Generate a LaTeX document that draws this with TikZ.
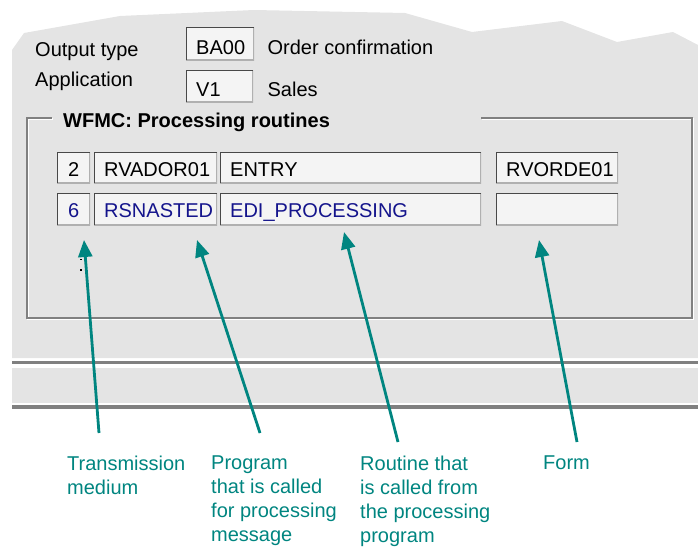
\documentclass[tikz,border=0pt]{standalone}
\usepackage{fontspec}
\setmainfont{Liberation Sans}
\usetikzlibrary{arrows.meta, positioning}

\definecolor{panelgray}{RGB}{228,228,228}
\definecolor{framegray}{RGB}{128,128,128}
\definecolor{fieldfill}{RGB}{244,244,244}
\definecolor{fielddark}{RGB}{72,72,72}
\definecolor{fieldlight}{RGB}{176,176,176}
\definecolor{sapblue}{RGB}{20,20,140}
\definecolor{noteteal}{RGB}{0,133,128}

\tikzset{
  field/.style={fill=fieldfill, anchor=north west, inner xsep=10pt, inner ysep=0pt,
    text width=#1, align=left, minimum height=31pt, text height=17pt, text depth=0pt,
    font=\fontsize{20}{24}\selectfont,
    path picture={
      \draw[fieldlight, line width=3pt] (path picture bounding box.south west)
        -- (path picture bounding box.south east) -- (path picture bounding box.north east);
      \draw[fielddark, line width=2pt] (path picture bounding box.south west)
        -- (path picture bounding box.north west) -- (path picture bounding box.north east);
    }},
  hfield/.style={field=#1, minimum height=33pt, text height=21pt},
  lbl/.style={inner sep=0pt, anchor=base west, font=\fontsize{20}{24}\selectfont},
  note/.style={inner sep=0pt, anchor=north west, align=left, text=noteteal,
    font=\fontsize{20}{24}\selectfont},
  notearrow/.style={draw=noteteal, line width=2.8pt,
    -{Triangle[length=17pt,width=14pt]}},
}

\begin{document}
\begin{tikzpicture}[x=1pt, y=-1pt]
\useasboundingbox (0,0) rectangle (698,548);

% screen panel
\fill[panelgray] (12,358) -- (12,50) -- (24,33) -- (120,16) -- (254,10) -- (405,13)
  -- (472,32) -- (562,21) -- (617,42) -- (673,32) -- (698,45) -- (698,358) -- cycle;
\fill[framegray] (12,361) rectangle (698,364);
\fill[panelgray] (12,368) rectangle (698,403);
\fill[framegray] (12,405) rectangle (698,409);

% header
\node[lbl] (otype) at (35,57) {Output type};
\node[lbl] (appl) at (35,87) {Application};
\node[hfield=48pt] (ba) at (186,27) {BA00};
\node[hfield=47pt, minimum height=32pt] (v1) at (186,70) {V1};
\node[lbl] (oconf) at ([xshift=13pt]ba.base east) {Order confirmation};
\node[lbl] (sales) at ([xshift=14pt]v1.base east) {Sales};

% group box
\draw[white, line width=1.2pt] (53,119) -- (28,119) -- (28,319) -- (693,319)
  -- (693,119) -- (482,119);
\draw[framegray, line width=1.5pt] (52,118) -- (27,118) -- (27,318) -- (692,318)
  -- (692,118) -- (481,118);
\node[lbl, font=\fontsize{20}{24}\selectfont\bfseries] (wfmc) at (63,128)
  {WFMC: Processing routines};

% table rows
\node[field=13pt, align=center] (med1) at (57,152) {2};
\node[field=103pt] (prog1) at (94,152) {RVADOR01};
\node[field=241pt] (rout1) at (220,152) {ENTRY};
\node[field=102pt] (form1) at (496,152) {RVORDE01};

\node[field=13pt, align=center, minimum height=32pt, text=sapblue] (med2) at (57,193) {6};
\node[field=103pt, minimum height=32pt, text=sapblue] (prog2) at (94,193) {RSNASTED};
\node[field=241pt, minimum height=32pt, text=sapblue] (rout2) at (220,193) {EDI\_PROCESSING};
\node[field=102pt, minimum height=32pt] (form2) at (496,193) {};

\fill (80,258.5) rectangle (81.8,260.3);
\fill (80,269) rectangle (81.8,270.8);

% notes
\node[note] (nmed) at (67,455.5) {Transmission\\medium};
\node[note] (nprog) at (211,455.5) {Program\\that is called\\for processing\\message};
\node[note] (nrout) at (360,455.5) {Routine that\\is called from\\the processing\\program};
\node[note] (nform) at (543,455.5) {Form};

\coordinate (tail1) at (99,433);   \coordinate (tip1) at (84,240);
\coordinate (tail2) at (260,433);  \coordinate (tip2) at (197,240);
\coordinate (tail3) at (398,442);  \coordinate (tip3) at (344,232);
\coordinate (tail4) at (577,442);  \coordinate (tip4) at (539,240);

\draw[notearrow] (tail1) -- (tip1);
\draw[notearrow] (tail2) -- (tip2);
\draw[notearrow] (tail3) -- (tip3);
\draw[notearrow] (tail4) -- (tip4);

\end{tikzpicture}
\end{document}
